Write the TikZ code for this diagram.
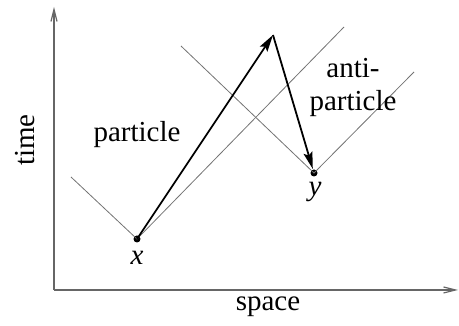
\documentclass[tikz,border=0pt]{standalone}
\usepackage{fontspec}
\setmainfont{Liberation Serif}
\usetikzlibrary{arrows.meta}
\begin{document}
\begin{tikzpicture}[x=1pt,y=-1pt,
  cone/.style={draw=black!55,line width=0.8pt},
  axis/.style={draw=black!60,line width=1.2pt,-{Straight Barb[length=12pt,width=6pt]}},
  path/.style={draw=black,line width=1.8pt,-{Stealth[length=17pt,width=9pt,inset=3pt]}},
  lbl/.style={font=\fontsize{29}{33}\selectfont},
  dot/.style={circle,fill=black,inner sep=0pt,minimum size=7pt}]
\useasboundingbox (0,0) rectangle (459,326);
\coordinate (o) at (54,290);
\coordinate (ytop) at (54,7);
\coordinate (xend) at (458,290);
\draw[axis] (o) -- (ytop);
\draw[axis] (o) -- (xend);
\node[dot] (x) at (137,239) {};
\node[dot] (y) at (314,173) {};
\coordinate (t) at (273,35);
\coordinate (c1) at (71,177);
\coordinate (c2) at (344,27);
\coordinate (c3) at (181,46);
\coordinate (c4) at (414,72);
\draw[cone] (c1) -- (x.center) -- (c2);
\draw[cone] (c3) -- (y.center) -- (c4);
\draw[path] (x.center) -- (t);
\draw[path,shorten >=0.5pt] (t) -- (y);
\node[lbl] (tl) at (25,140) [rotate=90] {time};
\node[lbl] (sl) at (268,307) {space};
\node[lbl] (pl) at (137,135) {particle};
\node[lbl,align=center] (al) at (353,87) {anti-\\particle};
\node[lbl,font=\fontsize{29}{33}\selectfont\itshape] (xl) at (137,258) {x};
\node[lbl,font=\fontsize{29}{33}\selectfont\itshape] (yl) at (315,192) {y};
\end{tikzpicture}
\end{document}
